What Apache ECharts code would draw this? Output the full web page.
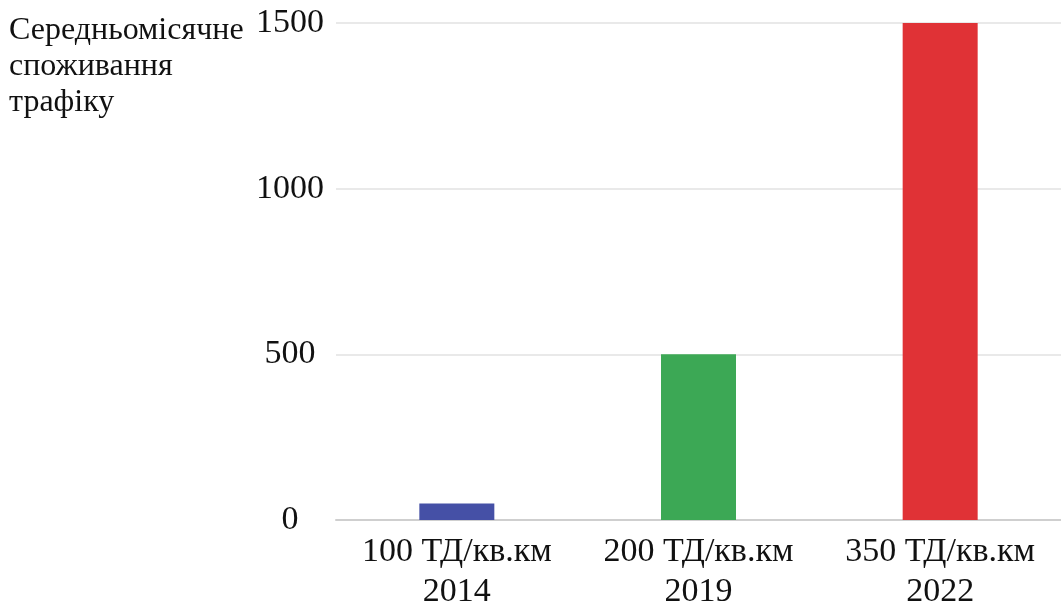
<!DOCTYPE html>
<html>
<head>
<meta charset="utf-8">
<script src="https://cdn.jsdelivr.net/npm/echarts@6/dist/echarts.min.js"></script>
<style>
  html, body { margin: 0; padding: 0; background: #fff; }
  #chart { width: 1061px; height: 610px; }
</style>
</head>
<body>
<div id="chart"></div>
<script>
const densities = ['100 ТД/кв.км', '200 ТД/кв.км', '350 ТД/кв.км']
const years = ['2014', '2019', '2022']
const traffic = [50, 500, 1500]
const yTicks = [0, 500, 1000, 1500]

const BAR_COLORS = ['#4550a6', '#3ca855', '#e03236']
const SERIF = '"Liberation Serif", "DejaVu Serif", serif'

const chart = echarts.init(document.getElementById('chart'))

const categories = densities.map((d, i) => d + '\n' + years[i])

const option = {
  animation: false,
  title: {
    text: 'Середньомісячне\nспоживання\nтрафіку',
    left: 9,
    top: 13,
    padding: 0,
    textStyle: {
      fontFamily: SERIF,
      fontSize: 32,
      fontWeight: 'normal',
      color: '#111',
      lineHeight: 36
    }
  },
  grid: {
    left: 336,
    right: 0,
    top: 23,
    bottom: 90,
    outerBoundsMode: 'none'
  },
  xAxis: {
    type: 'category',
    data: categories,
    axisTick: { show: false },
    axisLine: { lineStyle: { color: '#cfcfcf', width: 2 } },
    axisLabel: {
      fontFamily: SERIF,
      fontSize: 34,
      color: '#111',
      lineHeight: 40,
      margin: 12,
      interval: 0
    }
  },
  yAxis: {
    type: 'value',
    min: yTicks[0],
    max: yTicks[yTicks.length - 1],
    interval: yTicks[1] - yTicks[0],
    axisLine: { show: false },
    axisTick: { show: false },
    splitLine: { lineStyle: { color: '#e2e2e2', width: 1.5 } },
    axisLabel: {
      fontFamily: SERIF,
      fontSize: 34,
      color: '#111',
      margin: 46,
      align: 'center',
      padding: [0, 0, 6, 0],
      formatter: v => String(v)
    }
  },
  series: [
    {
      type: 'bar',
      barWidth: 75,
      data: traffic.map((v, i) => ({
        value: v,
        itemStyle: { color: BAR_COLORS[i] }
      }))
    }
  ]
}

chart.setOption(option)
</script>
</body>
</html>
